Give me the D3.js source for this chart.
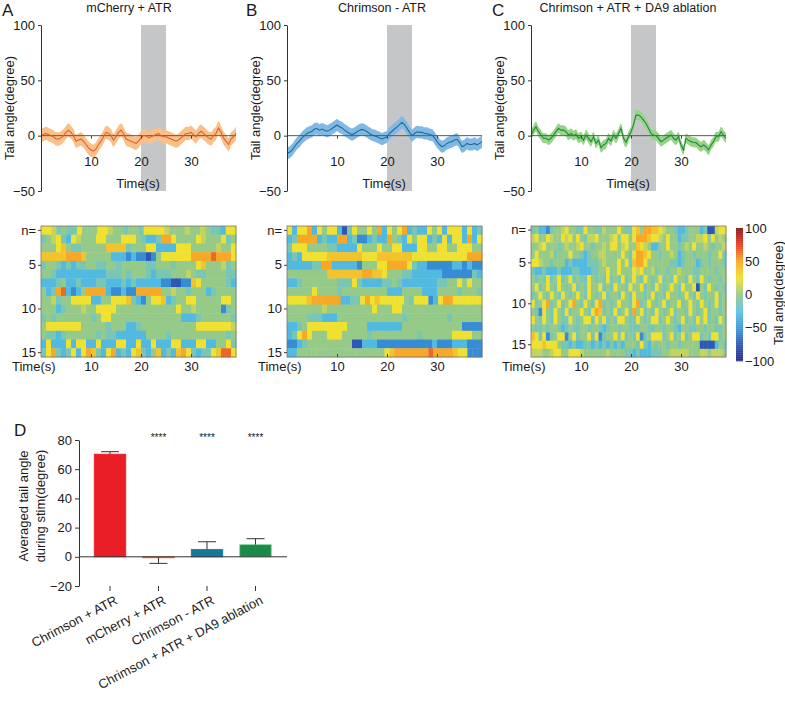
<!DOCTYPE html>
<html><head><meta charset="utf-8">
<script src="https://cdn.jsdelivr.net/npm/d3@7"></script>
<style>body{margin:0;background:#fff} text{font-family:"Liberation Sans",Arial,sans-serif;fill:#1a1a1a}</style>
</head><body><svg id="c" width="785" height="701"></svg>
<script>
// ---------------- data ----------------
const timeTicks = [10, 20, 30];
const angleTicks = [100, 50, 0, -50];
const stimWindow = [20, 25];
const traceTitles = ["mCherry + ATR", "Chrimson - ATR", "Chrimson + ATR + DA9 ablation"];
const panelLetters = ["A", "B", "C"];

const meanA = [[0,0],[0.5,1],[1,2],[1.5,1],[2,0],[2.5,-1],[3,-3],[3.5,-3],[4,-2],[4.5,0],[5,3],[5.5,5],[6,3],[6.5,0],[7,-5],[7.5,-4],[8,-3],[8.5,-5],[9,-8],[9.5,-11],[10,-13],[10.5,-14],[11,-12],[11.5,-8],[12,-5],[12.5,-1],[13,3],[13.5,2],[14,0],[14.5,-4],[15,-1],[15.5,3],[16,5],[16.5,2],[17,-3],[17.5,-4],[18,-5],[18.5,-6],[19,-7],[19.5,-5],[20,-2],[20.5,0],[21,0],[21.5,-2],[22,-1],[22.5,0],[23,1],[23.5,2],[24,0],[24.5,-1],[25,-1],[25.5,-2],[26,-3],[26.5,-4],[27,-5],[27.5,-4],[28,-2],[28.5,0],[29,2],[29.5,2],[30,3],[30.5,1],[31,-1],[31.5,2],[32,4],[32.5,2],[33,0],[33.5,-2],[34,-3],[34.5,0],[35,2],[35.5,7],[36,3],[36.5,-2],[37,-5],[37.5,-8],[38,-3],[38.5,-1],[39,2]];
const meanB = [[0,-16],[0.5,-15],[1,-13],[1.5,-10],[2,-7],[2.5,-5],[3,-2],[3.5,0],[4,2],[4.5,3],[5,4],[5.5,6],[6,6.5],[6.5,5],[7,6],[7.5,5],[8,4],[8.5,5],[9,6.5],[9.5,8],[10,9.6],[10.5,8],[11,7],[11.5,5],[12,3.6],[12.5,2],[13,1],[13.5,2],[14,3.6],[14.5,5],[15,5.7],[15.5,5],[16,3.6],[16.5,2],[17,0.6],[17.5,0],[18,-1],[18.5,-2],[19,-3],[19.5,-2],[20,-1],[20.5,2],[21,4],[21.5,6],[22,8],[22.5,10],[23,12],[23.5,10],[24,6.6],[24.5,3],[25,0],[25.5,2],[26,3.5],[26.5,3],[27,3],[27.5,2],[28,2],[28.5,1],[29,0.6],[29.5,-2],[30,-5.4],[30.5,-8],[31,-10],[31.5,-9],[32,-7],[32.5,-6],[33,-5.4],[33.5,-4],[34,-3.3],[34.5,-6],[35,-10],[35.5,-9],[36,-7],[36.5,-8],[37,-8],[37.5,-7],[38,-8.4],[38.5,-7],[39,-5.4]];
const meanC = [[0,0],[0.5,5],[1,8],[1.5,3.6],[2,0.6],[2.5,-2.4],[3,-2.4],[3.5,-4],[4,-2.4],[4.5,0.5],[5,3.6],[5.5,6.6],[6,5],[6.5,5],[7,3.6],[7.5,0.6],[8,2],[8.5,0],[9,1.2],[9.5,-2.4],[10,-1],[10.5,-4],[11,0.6],[11.5,-2.4],[12,-5.4],[12.5,-1],[13,-7],[13.5,-4],[14,-10.8],[14.5,-8.4],[15,-7],[15.5,-2.4],[16,-4.8],[16.5,0.6],[17,-2.4],[17.5,2],[18,6.6],[18.5,-2.4],[19,-6],[19.5,-1],[20,3.6],[20.5,9.6],[21,18.6],[21.5,18.6],[22,17],[22.5,14],[23,11],[23.5,6.6],[24,2],[24.5,0.6],[25,0],[25.5,-2.4],[26,-5.4],[26.5,-4],[27,-2.4],[27.5,-1],[28,0.6],[28.5,-2.4],[29,-4],[29.5,-1],[30,-8.4],[30.5,-13],[31,-2.4],[31.5,-4],[32,-5.4],[32.5,-6],[33,-6.3],[33.5,-8.4],[34,-10],[34.5,-8.4],[35,-10],[35.5,-13],[36,-8.4],[36.5,-5.4],[37,-1],[37.5,-1],[38,3.6],[38.5,0.6],[39,-2.4]];
const semA = 6, semB = 5.5, semC = 4.5;

// heatmap rows: each character is a level code (see levelValues)
const levelValues = {a:-75, b:-55, c:-30, d:-12, e:0, f:12, g:25, h:38, i:50, j:65, k:80};
const heatA = [
 "ggfdeddgeeeggfeedeedggggfeeefeefeddcgg",
 "defgdcgfeeeggeeegggedccdiigeeeegfeeegde",
 "eeegheddeeeeehhhhdeeeggccccgggeeeeefeeg",
 "hhhhhiiiheeeeecccbcbbabeggggggiiiijiiig",
 "deedcdcddeeddeedeeeeeddeeedeeeegheeefde",
 "eedccccccccccdddedeeedcdddeeefeddeeeedd",
 "cccdeccdcccddcccdcdcccccbbaabbhgeeeeedc",
 "ecdijcbceiiiicbbcbbiiiiieefeedeeecdeeee",
 "eefdeeggggcceeggghdcbegghcdeeggeeeeegge",
 "eeecdeeefeeggggeeeeeeeeeeeegeefeeeeebde",
 "dedeeeeeeedeggeeeeeeeeeeeeeecccdeeeeeed",
 "egggggggeeeeedeeeccdeeeeeeeeeeegggggggf",
 "eddcdeeeeeededdcccccceeeedeeeeeeeeeeede",
 "cgcccgcggccgcccggccgccgcccggcccggcceegd",
 "dgidcdgcgihdcgicdcghdcehcdchigdcddghjjg"];
const heatB = [
 "gcggicgeggcadgeegeicgegicdccgegcgggcgcd",
 "cdiiiicdcciicdbbcdcciedcgeggcdcgcggcicg",
 "dgggeeeeddccccgeeegeeggcccggeeggeegggee",
 "cdcggggghhhhhhhggghhhhhhhgggggggggggiii",
 "cccccddiicccccbeeeggiiiigdccbbbbbccbcbb",
 "eeeeeeeehhhhhhhiihhgeeeddccccccbbbbbbdc",
 "ccdeeeeeeedddgdccccddedcccccccddeegegee",
 "eeeeegeeeedeeeeeeeeeccceeeeccceeeedeeed",
 "gggghiiiiiiccddgighgggggedgggbcgiigggggg",
 "eeeeeeefeeeeeeeeegeeeggeeeeeeeeeeeeeeee",
 "eeeedddccceeeeeeeeeeeeedeeeeeeeedeeeeee",
 "ccdeggggggggeeeeccccccceeeeeeeeeeeebbbb",
 "cdgigeeegggeeeeedeeeeeeeeedeeeeeeggggee",
 "bbcdeeeeeeeeeaacccbbbbbbbbbbbcbbbcccbbb",
 "cceeeeeeeeeeeeeeeeeeghiiiiiiijiiiihggbbb"];
const heatC = [
 "deccbdeefgeeddgeeddfeeegeddgheiihhgfeedccdeeecdaafgg",
 "fgeegfeegfgegedffgeeefgeggegiiihggfegeecddeeffgegefe",
 "eefgeeedefeefgeedeefeggefgeehgfecceegeedefegeefedeef",
 "egeeefdeeegeedcdeeffeeeegedgiihgeedeefecdeedeeedeegd",
 "ggfeedeeecdccccdddefeeegegdhiigeeeeeeddcdeeecdedeeed",
 "dccdcccdcccddcccddeegeegeeegfgeefdeedeefeeeddeeeedee",
 "ededgdegdegdeddgededgdedgdegedgedegdedgeedgedgedeede",
 "egdegedgedegdedgeegdedgeedgeegdedgedegedgeegaedgeded",
 "degedgedgedegedgedegdeedgedgeedegdedgeedegedgedeegde",
 "gdegidegdegiedgedgidedegeedgidegedegdeegdegedgedegde",
 "edbgedgedgdeegedgihdedgdegdiegdedgedegdeedgedegdeede",
 "gedgedgeddgedeggdgegdedggeddgedeggdegedegdedgegdedge",
 "eddedeedcdeddeedeedcdeedeedddeeddeedeedceeddeedeedde",
 "hgdgbdeggbegdeegdgbdeegegdedgbdegggdegdegdeggdedggde",
 "ggghgggeddcdccddcdcdcdcdceeedgdcedeedeedeeeeeaaaaced",
 "fffeefggeegggfeeeeeefeeeeddcdcccdddeefffffeeeffefffe"];
const heatDuration = 39;
const colorTicks = [100, 50, 0, -50, -100];

const barCategories = ["Chrimson + ATR", "mCherry + ATR", "Chrimson - ATR", "Chrimson + ATR + DA9 ablation"];
const barMeans = [70.3, -0.6, 5.1, 8.3];
const barErrors = [1.7, 3.9, 5.2, 4.1];
const barStars = ["", "****", "****", "****"];
const barTicks = [80, 60, 40, 20, 0, -20];

// ---------------- drawing ----------------
const svg = d3.select("#c");
const FONT = 13;
const FF = '"Liberation Sans",Arial,sans-serif';

const colorScale = d3.scaleLinear()
  .domain([-100,-75,-50,-25,0,25,50,75,100])
  .range(["#28298a","#2c58b8","#3899dc","#58c2e2","#96ca88","#f0e030","#f6a826","#e83c26","#8a1719"])
  .clamp(true);

const panels = [
  {x0:41,  mean:meanA, sem:semA, line:"#e25f28", band:"#f9c08a", heat:heatA, titleX:129, letterX:2},
  {x0:287, mean:meanB, sem:semB, line:"#1b6f8c", band:"#82b8e6", heat:heatB, titleX:382, letterX:246},
  {x0:531, mean:meanC, sem:semC, line:"#1f8a3a", band:"#98d488", heat:heatC, titleX:628, letterX:492}
];

panels.forEach((p, k) => {
  const x = d3.scaleLinear().domain([0, 40]).range([p.x0, p.x0 + 200]);
  const y = d3.scaleLinear().domain([-50, 100]).range([191, 25]);
  const g = svg.append("g");

  g.append("text").attr("x", p.letterX).attr("y", 16).attr("font-size", 17).text(panelLetters[k]);
  g.append("text").attr("x", p.titleX).attr("y", 12).attr("text-anchor", "middle").attr("font-size", 12.5).text(traceTitles[k]);

  g.append("rect").attr("x", x(stimWindow[0])).attr("width", x(stimWindow[1]) - x(stimWindow[0]))
    .attr("y", y(100)).attr("height", y(-50) - y(100)).attr("fill", "#c5c6c8");

  const area = d3.area().x(d => x(d[0])).y0(d => y(d[1] - p.sem)).y1(d => y(d[1] + p.sem)).curve(d3.curveMonotoneX);
  g.append("path").datum(p.mean).attr("d", area).attr("fill", p.band);

  g.append("line").attr("x1", x(0)).attr("x2", x(heatDuration)).attr("y1", y(0)).attr("y2", y(0))
    .attr("stroke", "#5a5a5a").attr("stroke-width", 1);

  const line = d3.line().x(d => x(d[0])).y(d => y(d[1]));
  g.append("path").datum(p.mean).attr("d", line).attr("fill", "none").attr("stroke", p.line).attr("stroke-width", 1.1);

  const ya = g.append("g").attr("transform", `translate(${p.x0},0)`)
    .call(d3.axisLeft(y).tickValues(angleTicks).tickSize(3).tickPadding(3).tickSizeOuter(0));
  ya.selectAll("text").attr("font-size", FONT).style("font-family", FF);
  ya.selectAll("path,line").attr("stroke", "#333");

  const xa = g.append("g").attr("transform", `translate(0,${y(0)})`)
    .call(d3.axisBottom(x).tickValues(timeTicks).tickSize(3).tickPadding(18));
  xa.select(".domain").remove();
  xa.selectAll("line").attr("stroke", "#444");
  xa.selectAll("text").attr("font-size", FONT).style("font-family", FF);

  g.append("text").attr("x", p.x0 + 97).attr("y", 188).attr("text-anchor", "middle").attr("font-size", FONT).text("Time(s)");
  g.append("text").attr("transform", `translate(${p.x0 - 27},108) rotate(-90)`).attr("text-anchor", "middle")
    .attr("font-size", FONT).text("Tail angle(degree)");

  // heatmap
  const rows = p.heat;
  const hy = d3.scaleBand().domain(d3.range(rows.length)).range([226, 357]);
  const hg = svg.append("g");
  rows.forEach((row, r) => {
    const n = row.length;
    hg.selectAll(null).data(row.split("")).enter().append("rect")
      .attr("x", (c, i) => x(i * heatDuration / n))
      .attr("width", (c, i) => x((i + 1) * heatDuration / n) - x(i * heatDuration / n) + 0.4)
      .attr("y", hy(r)).attr("height", hy.bandwidth() + 0.4)
      .attr("fill", c => colorScale(levelValues[c]));
  });
  hg.append("rect").attr("x", x(0)).attr("y", 226).attr("width", x(heatDuration) - x(0)).attr("height", 131)
    .attr("fill", "none").attr("stroke", "#777").attr("stroke-width", 0.8);

  const rowLabels = {0:"n=", 4:"5", 9:"10", 14:"15"};
  const hya = hg.append("g").attr("transform", `translate(${x(0)},0)`)
    .call(d3.axisLeft(hy).tickValues([0,4,9,14]).tickFormat(d => rowLabels[d]).tickSize(3).tickPadding(2).tickSizeOuter(0));
  hya.select(".domain").remove();
  hya.selectAll("line").attr("stroke", "#444");
  hya.selectAll("text").attr("font-size", FONT).style("font-family", FF);

  const hxa = hg.append("g").attr("transform", `translate(0,357)`)
    .call(d3.axisBottom(x).tickValues(timeTicks).tickSize(-3).tickPadding(5));
  hxa.select(".domain").remove();
  hxa.selectAll("line").attr("stroke", "#444");
  hxa.selectAll("text").attr("font-size", FONT).style("font-family", FF);
  hg.append("text").attr("x", p.x0 - 29).attr("y", 371).attr("font-size", FONT).text("Time(s)");
});

// colour bar
{
  const cy = d3.scaleLinear().domain([-100, 100]).range([361, 228]);
  const cg = svg.append("g");
  d3.range(-100, 100, 1).forEach(v => {
    cg.append("rect").attr("x", 736).attr("width", 7).attr("y", cy(v + 1)).attr("height", cy(v) - cy(v + 1) + 0.3)
      .attr("fill", colorScale(v + 0.5));
  });
  const ca = cg.append("g").attr("transform", "translate(743,0)")
    .call(d3.axisRight(cy).tickValues(colorTicks).tickSize(0).tickPadding(2));
  ca.select(".domain").remove();
  ca.selectAll("text").attr("font-size", FONT).style("font-family", FF);
  cg.append("text").attr("transform", "translate(783,293) rotate(-90)").attr("text-anchor", "middle")
    .attr("font-size", FONT).text("Tail angle(degree)");
}

// panel D
{
  const dg = svg.append("g");
  const y = d3.scaleLinear().domain([-20, 80]).range([586, 440]);
  const x = d3.scaleBand().domain(barCategories).range([85.75, 279.75]).paddingInner(0.35).paddingOuter(0.175);
  const barColors = ["#e91e26", "#e46a2c", "#17799a", "#1d8a47"];
  const barEdges = ["#e91e26", "#e46a2c", "#17799a", "#7fd49a"];

  dg.append("text").attr("x", 14).attr("y", 436).attr("font-size", 17).text("D");

  dg.selectAll(".bar").data(barCategories).enter().append("rect")
    .attr("x", d => x(d)).attr("width", x.bandwidth())
    .attr("y", (d, i) => y(Math.max(0, barMeans[i])))
    .attr("height", (d, i) => Math.max(1, Math.abs(y(barMeans[i]) - y(0))))
    .attr("fill", (d, i) => barColors[i]).attr("stroke", (d, i) => barEdges[i]).attr("stroke-width", 0.8);

  barCategories.forEach((d, i) => {
    const cx = x(d) + x.bandwidth() / 2;
    const end = barMeans[i] >= 0 ? barMeans[i] + barErrors[i] : barMeans[i] - barErrors[i];
    dg.append("line").attr("x1", cx).attr("x2", cx).attr("y1", y(barMeans[i])).attr("y2", y(end)).attr("stroke", "#333").attr("stroke-width", 1);
    dg.append("line").attr("x1", cx - 9).attr("x2", cx + 9).attr("y1", y(end)).attr("y2", y(end)).attr("stroke", "#333").attr("stroke-width", 1);
    if (barStars[i]) dg.append("text").attr("x", cx).attr("y", y(80) + 0.5).attr("text-anchor", "middle")
      .attr("font-size", 10).text(barStars[i]);
  });

  dg.append("line").attr("x1", 79).attr("x2", 287).attr("y1", y(0)).attr("y2", y(0)).attr("stroke", "#333");

  const ya = dg.append("g").attr("transform", "translate(79,0)")
    .call(d3.axisLeft(y).tickValues(barTicks).tickSize(4).tickPadding(3).tickSizeOuter(0));
  ya.selectAll("path,line").attr("stroke", "#333");
  ya.selectAll("text").attr("font-size", FONT).style("font-family", FF);

  const xa = dg.append("g").attr("transform", `translate(0,${y(-20)})`)
    .call(d3.axisBottom(x).tickSize(5).tickSizeOuter(0));
  xa.select(".domain").remove();
  xa.selectAll("line").attr("stroke", "#333");
  xa.selectAll("text").attr("font-size", FONT).style("font-family", FF)
    .attr("text-anchor", "end").attr("dy", "0.7em").attr("y", 0)
    .attr("transform", "translate(4,9) rotate(-28)");

  dg.append("text").attr("transform", "translate(28,506) rotate(-90)").attr("text-anchor", "middle").attr("font-size", FONT).text("Averaged tail angle");
  dg.append("text").attr("transform", "translate(45,506) rotate(-90)").attr("text-anchor", "middle").attr("font-size", FONT).text("during stim(degree)");
}
</script></body></html>
